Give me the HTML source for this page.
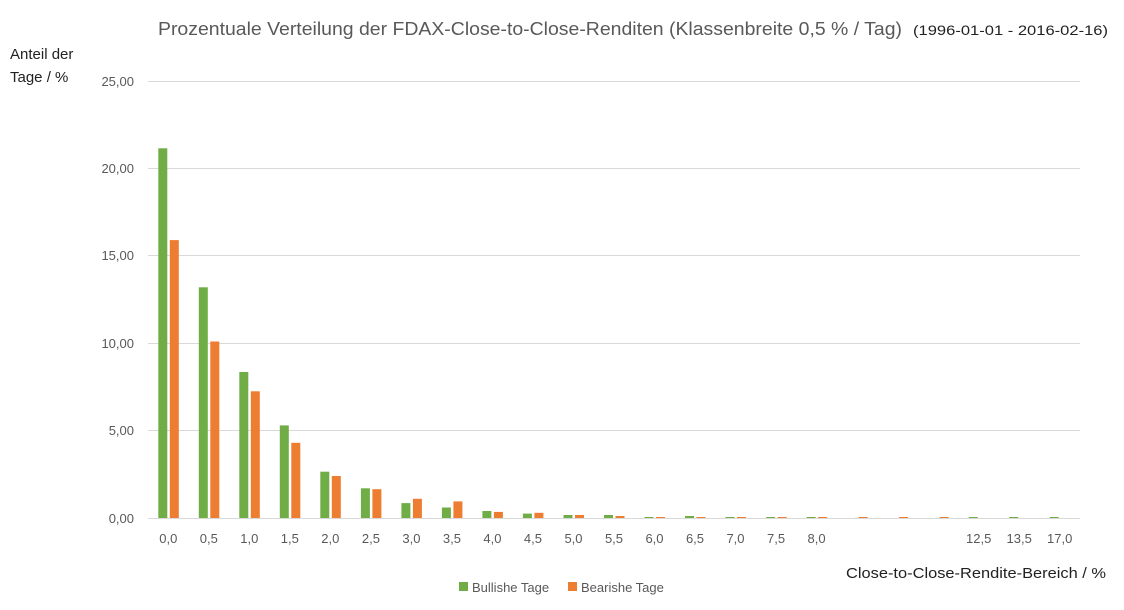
<!DOCTYPE html>
<html><head><meta charset="utf-8"><style>
body{margin:0;background:#fff;}
svg{display:block;font-family:"Liberation Sans",sans-serif;}
</style></head><body>
<svg width="1124" height="610" xmlns="http://www.w3.org/2000/svg">
<rect width="1124" height="610" fill="#fff"/>
<text x="158" y="35" font-size="18" fill="#595959" textLength="744" lengthAdjust="spacingAndGlyphs">Prozentuale Verteilung der FDAX-Close-to-Close-Renditen (Klassenbreite  0,5 % / Tag)</text>
<text x="913" y="35" font-size="14" fill="#222" textLength="195" lengthAdjust="spacingAndGlyphs">(1996-01-01 - 2016-02-16)</text>
<text x="10" y="59" font-size="15" fill="#222">Anteil der</text>
<text x="10" y="82" font-size="15" fill="#222">Tage / %</text>
<g stroke="#d9d9d9" stroke-width="1">
<line x1="148" y1="81.5" x2="1080" y2="81.5"/>
<line x1="148" y1="168.5" x2="1080" y2="168.5"/>
<line x1="148" y1="255.5" x2="1080" y2="255.5"/>
<line x1="148" y1="343.5" x2="1080" y2="343.5"/>
<line x1="148" y1="430.5" x2="1080" y2="430.5"/>
<line x1="148" y1="518.5" x2="1080" y2="518.5"/>
</g>
<g font-size="13" fill="#595959" text-anchor="end">
<text x="134" y="86">25,00</text>
<text x="134" y="173">20,00</text>
<text x="134" y="260">15,00</text>
<text x="134" y="348">10,00</text>
<text x="134" y="435">5,00</text>
<text x="134" y="523">0,00</text>
</g>
<g fill="#70ad47">
<rect x="158.3" y="148.3" width="9" height="369.7"/>
<rect x="198.8" y="287.3" width="9" height="230.7"/>
<rect x="239.3" y="372.0" width="9" height="146"/>
<rect x="279.8" y="425.4" width="9" height="92.6"/>
<rect x="320.3" y="471.7" width="9" height="46.3"/>
<rect x="360.9" y="488.3" width="9" height="29.7"/>
<rect x="401.4" y="503.1" width="9" height="14.9"/>
<rect x="441.9" y="507.5" width="9" height="10.5"/>
<rect x="482.4" y="511" width="9" height="7"/>
<rect x="522.9" y="513.6" width="9" height="4.4"/>
<rect x="563.5" y="515" width="9" height="3"/>
<rect x="604.0" y="515" width="9" height="3"/>
<rect x="644.5" y="517" width="9" height="1"/>
<rect x="685.0" y="516" width="9" height="2"/>
<rect x="725.5" y="517" width="9" height="1"/>
<rect x="766.1" y="517" width="9" height="1"/>
<rect x="806.6" y="517" width="9" height="1"/>
<rect x="968.7" y="517" width="9" height="1"/>
<rect x="1009.2" y="517" width="9" height="1"/>
<rect x="1049.7" y="517" width="9" height="1"/>
</g>
<g fill="#ed7d31">
<rect x="169.8" y="240.1" width="9" height="277.9"/>
<rect x="210.3" y="341.5" width="9" height="176.5"/>
<rect x="250.8" y="391.3" width="9" height="126.7"/>
<rect x="291.3" y="442.8" width="9" height="75.2"/>
<rect x="331.8" y="476" width="9" height="42"/>
<rect x="372.4" y="489.2" width="9" height="28.8"/>
<rect x="412.9" y="498.8" width="9" height="19.2"/>
<rect x="453.4" y="501.4" width="9" height="16.6"/>
<rect x="493.9" y="511.9" width="9" height="6.1"/>
<rect x="534.4" y="512.8" width="9" height="5.2"/>
<rect x="575.0" y="515" width="9" height="3"/>
<rect x="615.5" y="516" width="9" height="2"/>
<rect x="656.0" y="517" width="9" height="1"/>
<rect x="696.5" y="517" width="9" height="1"/>
<rect x="737.0" y="517" width="9" height="1"/>
<rect x="777.6" y="517" width="9" height="1"/>
<rect x="818.1" y="517" width="9" height="1"/>
<rect x="858.6" y="517" width="9" height="1"/>
<rect x="899.1" y="517" width="9" height="1"/>
<rect x="939.6" y="517" width="9" height="1"/>
</g>
<g font-size="13" fill="#595959" text-anchor="middle">
<text x="168.3" y="543">0,0</text>
<text x="208.8" y="543">0,5</text>
<text x="249.3" y="543">1,0</text>
<text x="289.8" y="543">1,5</text>
<text x="330.3" y="543">2,0</text>
<text x="370.9" y="543">2,5</text>
<text x="411.4" y="543">3,0</text>
<text x="451.9" y="543">3,5</text>
<text x="492.4" y="543">4,0</text>
<text x="532.9" y="543">4,5</text>
<text x="573.5" y="543">5,0</text>
<text x="614.0" y="543">5,5</text>
<text x="654.5" y="543">6,0</text>
<text x="695.0" y="543">6,5</text>
<text x="735.5" y="543">7,0</text>
<text x="776.1" y="543">7,5</text>
<text x="816.6" y="543">8,0</text>
<text x="978.7" y="543">12,5</text>
<text x="1019.2" y="543">13,5</text>
<text x="1059.7" y="543">17,0</text>
</g>
<text x="846" y="578" font-size="15" fill="#222" textLength="260" lengthAdjust="spacingAndGlyphs">Close-to-Close-Rendite-Bereich / %</text>
<rect x="459" y="582" width="9" height="9" fill="#70ad47"/>
<text x="472" y="592" font-size="13" fill="#595959">Bullishe Tage</text>
<rect x="568" y="582" width="9" height="9" fill="#ed7d31"/>
<text x="581" y="592" font-size="13" fill="#595959">Bearishe Tage</text>
</svg>
</body></html>
